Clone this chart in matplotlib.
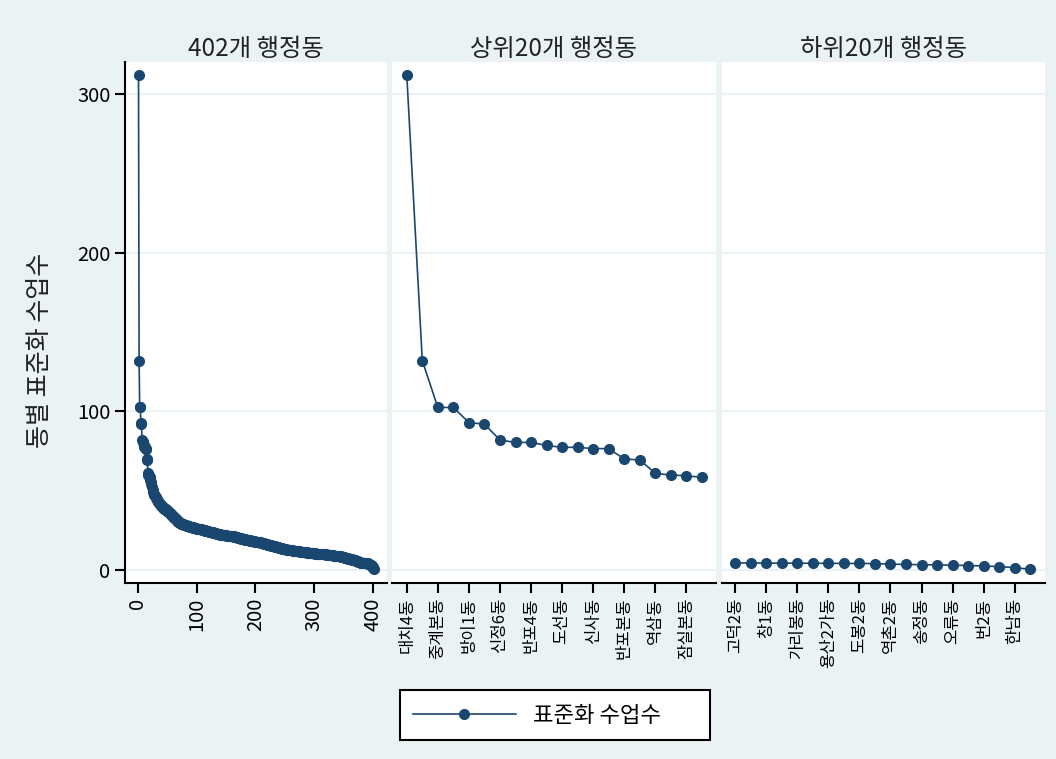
import matplotlib
matplotlib.use("Agg")
import matplotlib.pyplot as plt
from matplotlib.lines import Line2D

plt.rcParams['font.family'] = ['Noto Sans CJK KR', 'DejaVu Sans']

# ===== data =====
panel_titles = ['402개 행정동', '상위20개 행정동', '하위20개 행정동']
y_label = '동별 표준화 수업수'
legend_label = '표준화 수업수'

# top 20 dong (sorted desc)
top20_vals = [312, 132, 102.5, 102.5, 93, 92, 82, 80.5, 80.5, 78.6,
              77.4, 77.4, 76.6, 76.6, 70, 69.5, 61, 60, 59.5, 58.5]
top20_ticklabels = ['대치4동', '중계본동', '방이1동', '신정6동', '반포4동',
                    '도선동', '신사동', '반포본동', '역삼동', '잠실본동']

# bottom 20 dong
bottom20_vals = [4.6, 4.6, 4.5, 4.5, 4.5, 4.4, 4.4, 4.3, 4.3, 4.2,
                 3.9, 3.7, 3.5, 3.4, 3.2, 3.0, 2.7, 2.3, 1.7, 0.6]
bottom20_ticklabels = ['고덕2동', '창1동', '가리봉동', '용산2가동', '도봉2동',
                       '역촌2동', '송정동', '오류동', '번2동', '한남동']

# ranks 21..382
middle_vals = [
    57.0, 55.8, 54.1, 52.3, 50.6, 49.0, 48.2, 47.5, 46.9, 46.1, 45.4, 44.9, 44.2, 43.8, 43.1, 42.6, 42.0, 41.5, 41.1, 40.6,
    40.2, 39.8, 39.5, 39.1, 38.8, 38.5, 38.3, 38.1, 38.0, 37.6, 37.2, 36.9, 36.5, 36.1, 35.8, 35.4, 35.0, 34.6, 34.2, 33.8,
    33.4, 33.0, 32.7, 32.3, 32.0, 31.6, 31.2, 30.9, 30.5, 30.2, 30.0, 29.8, 29.6, 29.4, 29.2, 29.0, 28.9, 28.7, 28.6, 28.4,
    28.3, 28.2, 28.0, 27.9, 27.8, 27.7, 27.6, 27.5, 27.4, 27.3, 27.2, 27.1, 27.0, 26.9, 26.8, 26.7, 26.6, 26.5, 26.4, 26.3,
    26.2, 26.2, 26.1, 26.0, 26.0, 25.9, 25.8, 25.7, 25.6, 25.5, 25.4, 25.3, 25.2, 25.1, 25.0, 24.9, 24.8, 24.7, 24.6, 24.5,
    24.4, 24.3, 24.2, 24.1, 24.0, 23.9, 23.8, 23.7, 23.6, 23.5, 23.4, 23.3, 23.2, 23.1, 23.0, 22.9, 22.8, 22.7, 22.6, 22.5,
    22.4, 22.4, 22.3, 22.3, 22.2, 22.2, 22.1, 22.1, 22.0, 22.0, 21.9, 21.9, 21.8, 21.8, 21.7, 21.7, 21.6, 21.6, 21.6, 21.5,
    21.5, 21.4, 21.3, 21.2, 21.1, 21.0, 20.9, 20.8, 20.7, 20.6, 20.5, 20.4, 20.3, 20.2, 20.1, 20.0, 19.9, 19.8, 19.7, 19.6,
    19.5, 19.4, 19.3, 19.3, 19.2, 19.1, 19.0, 18.9, 18.9, 18.8, 18.7, 18.6, 18.5, 18.5, 18.4, 18.3, 18.2, 18.2, 18.1, 18.0,
    17.9, 17.9, 17.8, 17.7, 17.7, 17.6, 17.5, 17.5, 17.4, 17.3, 17.2, 17.1, 17.0, 16.9, 16.8, 16.7, 16.6, 16.5, 16.4, 16.3,
    16.2, 16.1, 16.0, 15.9, 15.8, 15.7, 15.6, 15.5, 15.4, 15.3, 15.2, 15.1, 15.0, 14.9, 14.8, 14.7, 14.6, 14.5, 14.4, 14.3,
    14.2, 14.1, 14.0, 13.9, 13.8, 13.7, 13.6, 13.5, 13.4, 13.3, 13.2, 13.1, 13.0, 12.9, 12.9, 12.8, 12.8, 12.7, 12.7, 12.6,
    12.6, 12.5, 12.5, 12.4, 12.4, 12.3, 12.3, 12.2, 12.2, 12.1, 12.1, 12.0, 12.0, 11.9, 11.9, 11.8, 11.8, 11.7, 11.7, 11.6,
    11.6, 11.5, 11.5, 11.4, 11.4, 11.3, 11.3, 11.2, 11.2, 11.1, 11.1, 11.0, 11.0, 10.9, 10.9, 10.8, 10.8, 10.7, 10.7, 10.6,
    10.6, 10.5, 10.5, 10.5, 10.4, 10.4, 10.4, 10.3, 10.3, 10.3, 10.2, 10.2, 10.2, 10.1, 10.1, 10.1, 10.0, 10.0, 10.0, 10.0,
    9.9, 9.9, 9.8, 9.8, 9.7, 9.7, 9.6, 9.6, 9.5, 9.5, 9.4, 9.4, 9.3, 9.3, 9.2, 9.2, 9.1, 9.1, 9.0, 9.0,
    8.9, 8.9, 8.8, 8.8, 8.7, 8.6, 8.5, 8.4, 8.3, 8.2, 8.1, 8.0, 7.9, 7.8, 7.7, 7.6, 7.5, 7.4, 7.3, 7.2,
    7.1, 7.0, 6.9, 6.8, 6.7, 6.6, 6.5, 6.4, 6.3, 6.2, 6.1, 6.0, 5.8, 5.6, 5.5, 5.3, 5.2, 5.0, 4.9, 4.8,
    4.8, 4.7,
]

all_vals = top20_vals + middle_vals + bottom20_vals
all_rank = list(range(1, len(all_vals) + 1))
left_xticks = [0, 100, 200, 300, 400]
y_ticks = [0, 100, 200, 300]

# ===== style =====
bg = '#EAF2F3'
navy = '#1A476F'
W, H = 1056, 759

def px_box(x0, x1, y0, y1):
    return [x0 / W, 1 - y1 / H, (x1 - x0) / W, (y1 - y0) / H]

fig = plt.figure(figsize=(W / 100, H / 100), dpi=100, facecolor=bg)
ax1 = fig.add_axes(px_box(125, 387, 62, 583))
ax2 = fig.add_axes(px_box(392, 716, 62, 583))
ax3 = fig.add_axes(px_box(722, 1045, 62, 583))

line_kw = dict(color=navy, lw=1.2, marker='o', ms=7, mfc=navy, mec=navy)

ax1.plot(all_rank, all_vals, **line_kw)
ax2.plot(range(1, 21), top20_vals, **line_kw)
ax3.plot(range(1, 21), bottom20_vals, **line_kw)

ax1.set_xlim(-22, 424)
ax2.set_xlim(0.05, 20.9)
ax3.set_xlim(0.15, 20.95)

for ax, title in zip([ax1, ax2, ax3], panel_titles):
    ax.set_facecolor('white')
    ax.set_ylim(-8, 320)
    ax.set_yticks(y_ticks)
    ax.grid(axis='y', color=bg, lw=1.5)
    ax.set_axisbelow(True)
    for s in ['top', 'right', 'left']:
        ax.spines[s].set_visible(False)
    ax.spines['bottom'].set_linewidth(1.5)
    ax.tick_params(axis='x', length=7, width=1.5, direction='out')
    ax.set_title(title, fontsize=17.5, pad=4, color='#222222')

ax1.spines['left'].set_visible(True)
ax1.spines['left'].set_linewidth(1.5)
ax1.tick_params(axis='y', length=7, width=1.5, labelsize=14.5)
ax1.set_xticks(left_xticks)
ax1.set_xticklabels([str(t) for t in left_xticks], rotation=90, fontsize=14.5)

for ax in [ax2, ax3]:
    ax.tick_params(axis='y', length=0, labelleft=False)

ax2.set_xticks(range(1, 21, 2))
ax2.set_xticklabels(top20_ticklabels, rotation=90, fontsize=12, va='top')
ax3.set_xticks(range(1, 21, 2))
ax3.set_xticklabels(bottom20_ticklabels, rotation=90, fontsize=12, va='top')

fig.text(40 / W, 1 - 350 / H, y_label, rotation=90, fontsize=18,
         ha='center', va='center', color='#222222')

handle = Line2D([], [], **line_kw)
leg = fig.legend([handle], [legend_label], loc='center', mode='expand',
                 bbox_to_anchor=(400 / W, 1 - 740 / H, 310 / W, 50 / H),
                 fontsize=16, handlelength=4.6, handletextpad=0.8,
                 borderpad=0.6, borderaxespad=0, fancybox=False,
                 edgecolor='black', framealpha=1)
leg.get_frame().set_linewidth(1.5)

fig.savefig('out.png', dpi=100, facecolor=bg)
